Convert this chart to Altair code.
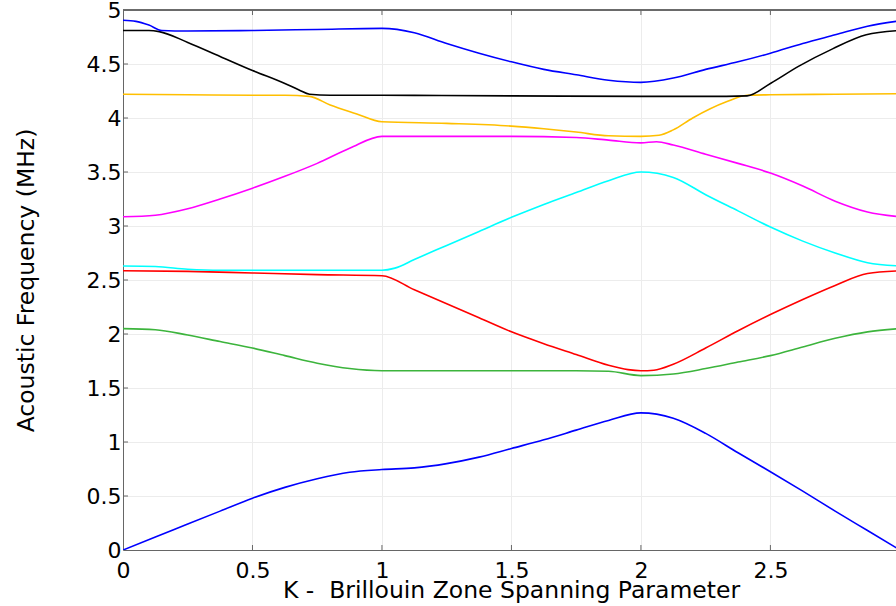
import altair as alt
import pandas as pd

# ---- data (K, frequency in MHz) ----
b1_k = [0, 0.125, 0.25, 0.375, 0.5, 0.625, 0.75, 0.875, 1.0, 1.125, 1.25, 1.375, 1.5, 1.625, 1.75, 1.875, 2.0, 2.125, 2.25, 2.375, 2.5, 2.625, 2.75, 2.875, 3.0]
b1_f = [0, 0.12, 0.24, 0.36, 0.48, 0.58, 0.66, 0.72, 0.745, 0.76, 0.80, 0.86, 0.94, 1.02, 1.11, 1.20, 1.27, 1.22, 1.08, 0.90, 0.725, 0.545, 0.36, 0.18, 0.0]

b2_k = [0, 0.125, 0.25, 0.375, 0.5, 0.625, 0.75, 0.875, 1.0, 1.25, 1.5, 1.75, 1.875, 2.0, 2.125, 2.25, 2.375, 2.5, 2.625, 2.75, 2.875, 3.0]
b2_f = [2.05, 2.04, 1.99, 1.93, 1.87, 1.80, 1.73, 1.68, 1.66, 1.66, 1.66, 1.66, 1.655, 1.615, 1.63, 1.68, 1.74, 1.80, 1.88, 1.96, 2.02, 2.05]

b3_k = [0, 0.25, 0.5, 0.75, 1.0, 1.125, 1.25, 1.375, 1.5, 1.625, 1.75, 1.875, 1.95, 2.0, 2.05, 2.125, 2.25, 2.375, 2.5, 2.625, 2.75, 2.875, 3.0]
b3_f = [2.585, 2.58, 2.565, 2.55, 2.54, 2.41, 2.28, 2.15, 2.02, 1.91, 1.81, 1.71, 1.67, 1.66, 1.665, 1.72, 1.87, 2.03, 2.18, 2.32, 2.45, 2.56, 2.585]

b4_k = [0, 0.125, 0.25, 0.375, 0.5, 0.75, 1.0, 1.05, 1.125, 1.25, 1.375, 1.5, 1.625, 1.75, 1.875, 2.0, 2.125, 2.25, 2.375, 2.5, 2.625, 2.75, 2.875, 3.0]
b4_f = [2.63, 2.625, 2.60, 2.59, 2.59, 2.59, 2.59, 2.61, 2.69, 2.82, 2.95, 3.08, 3.20, 3.31, 3.42, 3.50, 3.45, 3.29, 3.14, 2.99, 2.86, 2.75, 2.66, 2.63]

b5_k = [0, 0.125, 0.25, 0.375, 0.5, 0.625, 0.75, 0.875, 1.0, 1.25, 1.5, 1.75, 1.875, 2.0, 2.06, 2.125, 2.25, 2.375, 2.5, 2.625, 2.75, 2.875, 3.0]
b5_f = [3.085, 3.10, 3.16, 3.25, 3.35, 3.46, 3.58, 3.72, 3.83, 3.83, 3.83, 3.82, 3.795, 3.77, 3.78, 3.75, 3.665, 3.58, 3.49, 3.37, 3.23, 3.13, 3.085]

b6_k = [0, 0.25, 0.5, 0.625, 0.72, 0.8, 0.9, 1.0, 1.25, 1.5, 1.625, 1.75, 1.875, 2.0, 2.07, 2.125, 2.2, 2.33, 2.41, 2.5, 2.75, 3.0]
b6_f = [4.22, 4.215, 4.21, 4.21, 4.20, 4.12, 4.04, 3.965, 3.95, 3.925, 3.90, 3.87, 3.835, 3.83, 3.84, 3.89, 4.00, 4.15, 4.21, 4.215, 4.22, 4.225]

b7_k = [0, 0.1, 0.14, 0.25, 0.375, 0.5, 0.625, 0.68, 0.72, 0.8, 1.0, 1.5, 2.0, 2.25, 2.41, 2.5, 2.61, 2.74, 2.87, 3.0]
b7_f = [4.81, 4.81, 4.80, 4.70, 4.57, 4.44, 4.32, 4.26, 4.22, 4.21, 4.21, 4.205, 4.20, 4.20, 4.205, 4.32, 4.48, 4.64, 4.77, 4.81]

b8_k = [0, 0.05, 0.1, 0.15, 0.25, 0.5, 0.75, 1.0, 1.125, 1.25, 1.375, 1.5, 1.625, 1.75, 1.875, 2.0, 2.125, 2.25, 2.375, 2.5, 2.625, 2.75, 2.875, 3.0]
b8_f = [4.905, 4.895, 4.86, 4.81, 4.805, 4.81, 4.82, 4.83, 4.79, 4.69, 4.60, 4.52, 4.45, 4.40, 4.35, 4.33, 4.37, 4.45, 4.52, 4.60, 4.69, 4.77, 4.85, 4.90]

bands = ["1", "2", "3", "4", "5", "6", "7", "8"]
band_colors = ["#0000ff", "#3cb43c", "#ff0000", "#00ffff", "#ff00ff", "#ffbf00", "#000000", "#0000ff"]

x_ticks = [0, 0.5, 1, 1.5, 2, 2.5]
y_ticks = [0, 0.5, 1, 1.5, 2, 2.5, 3, 3.5, 4, 4.5, 5]

x_title = "K -\u00a0 Brillouin Zone Spanning Parameter"
y_title = "Acoustic Frequency (MHz)"

series = [(b1_k, b1_f), (b2_k, b2_f), (b3_k, b3_f), (b4_k, b4_f),
          (b5_k, b5_f), (b6_k, b6_f), (b7_k, b7_f), (b8_k, b8_f)]
rows = []
for name, (ks, fs) in zip(bands, series):
    for k, f in zip(ks, fs):
        rows.append({"k": k, "f": f, "band": name})
df = pd.DataFrame(rows)

W, H = 773, 540
FONT = "DejaVu Sans"

x_scale = alt.Scale(domain=[0, 2.985], nice=False, zero=False)
y_scale = alt.Scale(domain=[0, 5], nice=False)

x_axis = alt.Axis(values=x_ticks, format="~g", title=x_title,
                  grid=True, gridColor="#ececec", tickSize=0, labelPadding=10,
                  labelFont=FONT, labelFontSize=22, labelColor="#000",
                  titleFont=FONT, titleFontSize=23.5, titleFontWeight="normal", titleColor="#000",
                  titleBaseline="alphabetic", titleY=47, titleX=388,
                  domainColor="#666", labelFlush=False)
y_axis = alt.Axis(values=y_ticks, format="~g", title=y_title,
                  grid=True, gridColor="#ececec", tickSize=0, labelPadding=2,
                  labelFont=FONT, labelFontSize=22, labelColor="#000",
                  titleFont=FONT, titleFontSize=23.5, titleFontWeight="normal", titleColor="#000",
                  titleBaseline="alphabetic", titleX=-90, titleAngle=270,
                  domainColor="#666", labelFlush=False)

lines = alt.Chart(df).mark_line(strokeWidth=1.6, interpolate="monotone", clip=True).encode(
    x=alt.X("k:Q", scale=x_scale, axis=x_axis),
    y=alt.Y("f:Q", scale=y_scale, axis=y_axis),
    color=alt.Color("band:N", scale=alt.Scale(domain=bands, range=band_colors), legend=None),
    detail="band:N",
)

xt = pd.DataFrame({"k": x_ticks[1:]})
yt = pd.DataFrame({"f": y_ticks[1:-1]})

bottom_ticks = alt.Chart(xt).mark_rule(color="#666", strokeWidth=1).encode(
    x=alt.X("k:Q", scale=x_scale, axis=x_axis), y=alt.value(H), y2=alt.value(H - 5))
top_ticks = alt.Chart(xt).mark_rule(color="#666", strokeWidth=1).encode(
    x=alt.X("k:Q", scale=x_scale, axis=x_axis), y=alt.value(0), y2=alt.value(5))
left_ticks = alt.Chart(yt).mark_rule(color="#666", strokeWidth=1).encode(
    y=alt.Y("f:Q", scale=y_scale, axis=y_axis), x=alt.value(0), x2=alt.value(5))
top_border = alt.Chart(xt).mark_rule(color="#666", strokeWidth=1).encode(
    x=alt.value(0), x2=alt.value(W), y=alt.value(0))

chart = alt.layer(lines, bottom_ticks, top_ticks, left_ticks, top_border).properties(
    width=W, height=H,
    autosize=alt.AutoSizeParams(type="none"),
    padding={"left": 123, "top": 10, "right": 0, "bottom": 56},
).configure_view(stroke=None).configure(background="white")

chart.save("out.html", embed_options={"renderer": "svg", "actions": False})
